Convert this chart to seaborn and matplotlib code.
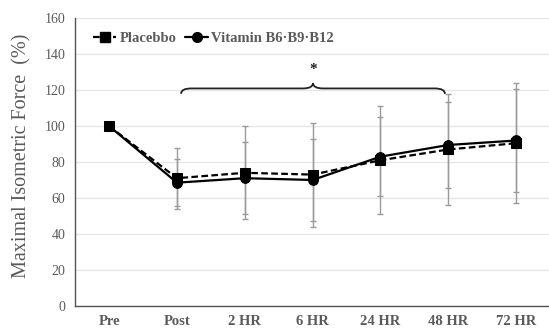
import numpy as np
import pandas as pd
import matplotlib

matplotlib.use('Agg')
import matplotlib.pyplot as plt
from matplotlib.path import Path
from matplotlib.patches import PathPatch
from matplotlib.lines import Line2D
import seaborn as sns

times = ['Pre', 'Post', '2 HR', '6 HR', '24 HR', '48 HR', '72 HR']
placebo = [100, 71, 74, 73, 81, 87, 90.5]
placebo_sd = [0, 17, 26, 29, 30, 31, 33.5]
vitamin = [100, 68.5, 71, 70, 83, 89.5, 92]
vitamin_sd = [0, 13, 20, 23, 22, 24, 28.5]
labels = ['Placebbo', 'Vitamin B6·B9·B12']

TEXT = '#5a5a5a'
ERR = '#9a9a9a'


def brace(ax, x0, x1, y, h):
    xm = (x0 + x1) / 2
    r = 0.15
    verts = [(x0, y - h), (x0, y), (x0 + r, y),
             (xm - r, y), (xm, y), (xm, y + h),
             (xm, y), (xm + r, y),
             (x1 - r, y), (x1, y), (x1, y - h)]
    codes = [Path.MOVETO, Path.CURVE3, Path.CURVE3,
             Path.LINETO, Path.CURVE3, Path.CURVE3,
             Path.CURVE3, Path.CURVE3,
             Path.LINETO, Path.CURVE3, Path.CURVE3]
    ax.add_patch(PathPatch(Path(verts, codes), fill=False, lw=1.3, color='#222222'))


def plot():
    df = pd.DataFrame({
        'time': times * 2,
        'force': placebo + vitamin,
        'group': [labels[0]] * 7 + [labels[1]] * 7,
    })
    sns.set_style('white')
    plt.rcParams['font.family'] = ['Liberation Serif', 'DejaVu Serif']
    fig = plt.figure(figsize=(5.49, 3.29), dpi=100)
    ax = fig.add_axes([0.137, 0.071, 0.865, 0.873])

    x = np.arange(len(times))
    ax.errorbar(x, placebo, yerr=placebo_sd, fmt='none', ecolor=ERR, elinewidth=1,
                capsize=2, capthick=1, zorder=1)
    ax.errorbar(x, vitamin, yerr=vitamin_sd, fmt='none', ecolor=ERR, elinewidth=1,
                capsize=2, capthick=1, zorder=1)

    sns.lineplot(data=df, x='time', y='force', hue='group', style='group',
                 palette=['black', 'black'], markers=['s', 'o'],
                 dashes=[(3, 1.5), ''], markersize=7, linewidth=1.6,
                 markeredgecolor='black', ax=ax, legend=False, zorder=3)

    ax.set_xlim(-0.5, 6.5)
    ax.set_ylim(0, 160)
    ax.set_yticks(range(0, 161, 20))
    ax.yaxis.grid(True, color='#e6e6e6', lw=1)
    ax.set_axisbelow(True)
    sns.despine(ax=ax)
    for s in ['left', 'bottom']:
        ax.spines[s].set_color('#555555')
        ax.spines[s].set_linewidth(1)

    ax.set_xticks(x)
    ax.set_xticklabels(times, fontweight='bold', color=TEXT, fontsize=10.5)
    ax.set_xticks(np.arange(0.5, 6, 1), minor=True)
    ax.tick_params(axis='x', which='major', length=0, pad=7)
    ax.tick_params(axis='x', which='minor', length=4, direction='in', color='#555555')
    ax.tick_params(axis='y', length=0, labelcolor=TEXT, labelsize=10, pad=7)
    ax.set_xlabel('')
    ax.set_ylabel('Maximal Isometric Force  (%)', color=TEXT, fontsize=14.5, labelpad=8)
    ax.yaxis.set_label_coords(-0.092, 0.52)

    brace(ax, 1.06, 4.95, 121, 3)
    ax.text(3.005, 128, '*', ha='center', va='bottom', fontsize=11, fontweight='bold', color='#222222')

    handles = [
        Line2D([], [], color='black', ls=(0, (3, 1.5)), marker='s', ms=7, lw=1.6),
        Line2D([], [], color='black', ls='-', marker='o', ms=7, lw=1.6),
    ]
    leg = ax.legend(handles, labels, loc='upper left', bbox_to_anchor=(0.01, 1.0), ncol=2,
                    frameon=False, handlelength=1.6, handletextpad=0.2, columnspacing=0.6,
                    prop={'weight': 'bold', 'size': 10.5})
    for t in leg.get_texts():
        t.set_color(TEXT)

    fig.savefig('out.png', dpi=100)


if __name__ == '__main__':
    plot()
